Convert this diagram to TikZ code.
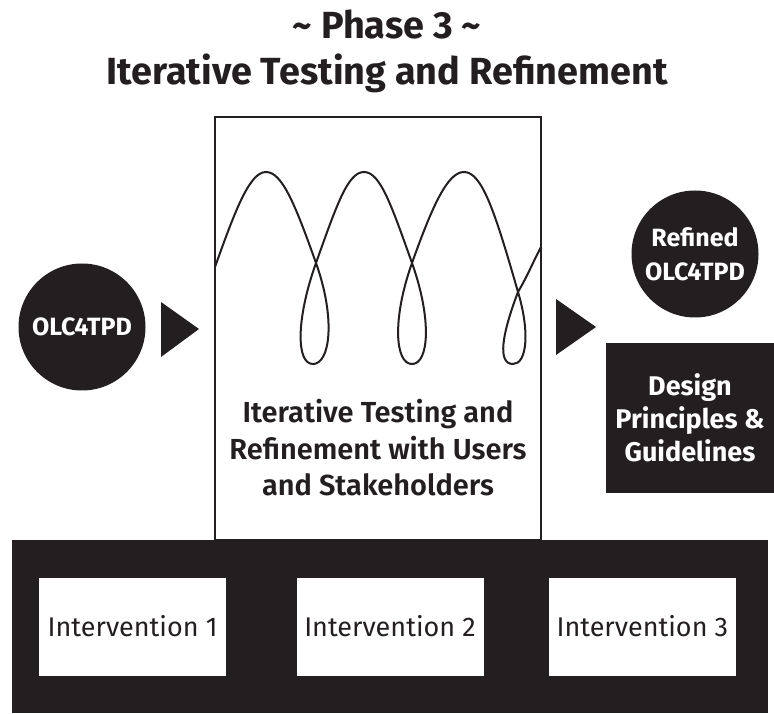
\documentclass[tikz,border=0pt]{standalone}
\usepackage{fontspec}
\setmainfont{Fira Sans}
\newfontfamily\semibf{Fira Sans SemiBold}
\usetikzlibrary{positioning, shapes.geometric}
\definecolor{InkBlack}{RGB}{35, 31, 32}

\begin{document}
\begin{tikzpicture}[x=1pt, y=1pt,
        titletext/.style={align=center, text=InkBlack, font=\bfseries\fontsize{37.8}{46}\selectfont},
        disc/.style={circle, fill=InkBlack, minimum size=127pt, inner sep=0pt, align=center, text=white, font=\bfseries\fontsize{25}{34}\selectfont},
        darkbox/.style={rectangle, fill=InkBlack, inner sep=0pt, align=center, text=white, font=\bfseries\fontsize{27}{33}\selectfont},
        interbox/.style={rectangle, fill=white, minimum width=187pt, minimum height=98pt, inner sep=0pt, text=InkBlack, font=\fontsize{27}{30}\selectfont},
        loopline/.style={draw=InkBlack, line width=2pt},
    ]
    \useasboundingbox (0,0) rectangle (774,713);

    \node[titletext] (title) at (387,662) {\textasciitilde{} Phase 3 \textasciitilde{}\\Iterative Testing and Refinement};

    % testing box with the spiral
    \node[rectangle, draw=InkBlack, line width=2pt, minimum width=326pt, minimum height=423pt, inner sep=0pt] (testbox) at (378,384.5) {};
    \draw[loopline] (215,446) .. controls +(21,59) and +(-16,0) .. (266,541)
        .. controls +(16,0) and +(-21,59) .. (316,450)
        .. controls +(20,-56) and +(17,0) .. (313,349)
        .. controls +(-17,0) and +(-20,-56) .. (316,450)
        .. controls +(21,59) and +(-16,0) .. (364,541)
        .. controls +(16,0) and +(-21,59) .. (412,450)
        .. controls +(20,-56) and +(17,0) .. (412,349)
        .. controls +(-17,0) and +(-20,-56) .. (412,450)
        .. controls +(21,59) and +(-16,0) .. (464,541)
        .. controls +(18,0) and +(-23,80) .. (518,421)
        .. controls +(12,-40) and +(14,0) .. (513,349)
        .. controls +(-16,0) and +(-16,-42) .. (518,421)
        .. controls +(10,17) and +(-8,-15) .. (541,466);
    \node[align=center, text=InkBlack, font=\semibf\fontsize{29}{36.5}\selectfont] (testlabel) at (378,265) {Iterative Testing and\\Refinement with Users\\and Stakeholders};

    % input and outputs
    \node[disc] (olcin) at (82,386) {OLC4TPD};
    \fill[InkBlack] (161,411) -- (199,384) -- (161,356) -- cycle;
    \fill[InkBlack] (556,414) -- (596,386) -- (556,358) -- cycle;
    \node[disc] (olcout) at (695,459) {Refined\\OLC4TPD};
    \node[darkbox, minimum width=168pt, minimum height=150pt] (guide) at (690,295) {Design\\Principles \&\\Guidelines};

    % interventions
    \node[fill=InkBlack, minimum width=756pt, minimum height=173pt, inner sep=0pt] (base) at (390,86.5) {};
    \node[interbox] (int2) at (base.center) {Intervention 2};
    \node[interbox, left=70pt of int2] (int1) {Intervention 1};
    \node[interbox, right=65pt of int2] (int3) {Intervention 3};
\end{tikzpicture}
\end{document}
